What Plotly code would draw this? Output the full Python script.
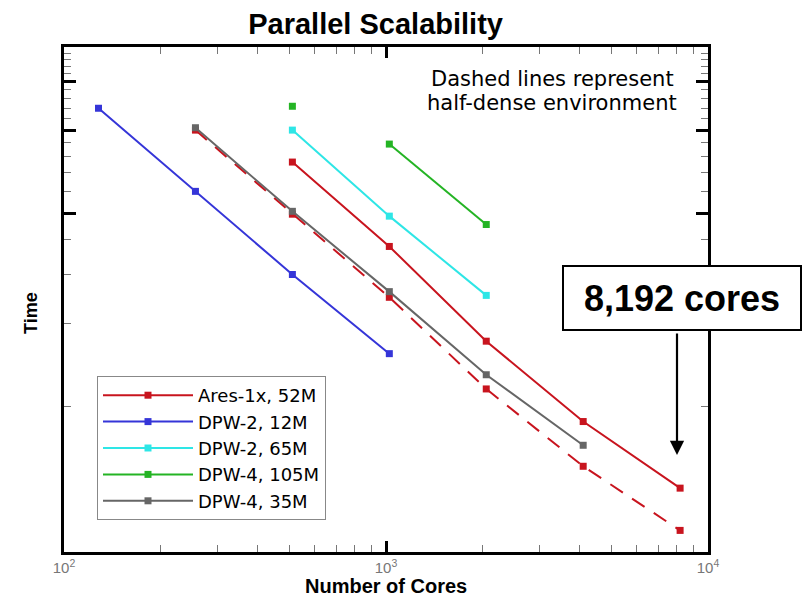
import plotly.graph_objects as go

# Core counts used in the runs
cores = [128, 256, 512, 1024, 2048, 4096, 8192]

# Wall-clock time per case (dense environment, solid lines)
ares_cores = [512, 1024, 2048, 4096, 8192]
ares_time = [7.66, 3.79, 1.72, 0.88, 0.505]

dpw2_12_cores = [128, 256, 512, 1024]
dpw2_12_time = [12.0, 6.0, 3.0, 1.55]

dpw2_65_cores = [512, 1024, 2048]
dpw2_65_time = [10.0, 4.88, 2.52]

dpw4_105_cores = [1024, 2048]
dpw4_105_time = [8.9, 4.55]

dpw4_35_cores = [256, 512, 1024, 2048, 4096]
dpw4_35_time = [10.2, 5.08, 2.6, 1.3, 0.722]

# Half-dense environment (dashed lines)
ares_half_cores = [256, 512, 1024, 2048, 4096, 8192]
ares_half_time = [10.0, 4.96, 2.48, 1.155, 0.606, 0.355]

dpw4_105_half_cores = [512]
dpw4_105_half_time = [12.2]

# Axis ticks
x_major = [100, 1000, 10000]
x_major_text = ["10<sup>2</sup>", "10<sup>3</sup>", "10<sup>4</sup>"]
x_minor = [200, 300, 400, 500, 600, 700, 800, 900,
           2000, 3000, 4000, 5000, 6000, 7000, 8000, 9000]
y_major = [5, 10, 15, 20]
y_minor = [1, 2, 3, 4, 6, 7, 8, 9, 11, 12, 13, 14, 16, 17, 18, 19]

RED = "#c8141e"
BLUE = "#3535d8"
CYAN = "#2ee6e6"
GREEN = "#24b424"
GRAY = "#666666"

SANS = "Liberation Sans, Arial, sans-serif"
WIDE = "DejaVu Sans, sans-serif"

fig = go.Figure()


def add_series(xs, ys, color, name, dash="solid", legend=True):
    fig.add_trace(go.Scatter(
        x=xs, y=ys, name=name, mode="lines+markers",
        line=dict(color=color, width=2, dash=dash),
        marker=dict(symbol="square", size=7, color=color),
        showlegend=legend,
    ))


# dashed (half-dense) series go underneath the solid ones
add_series(ares_half_cores, ares_half_time, RED, "Ares-1x, 52M (half-dense)",
           dash="15px,11px", legend=False)
add_series(dpw4_105_half_cores, dpw4_105_half_time, GREEN,
           "DPW-4, 105M (half-dense)", dash="15px,11px", legend=False)

add_series(ares_cores, ares_time, RED, "Ares-1x, 52M")
add_series(dpw2_12_cores, dpw2_12_time, BLUE, "DPW-2, 12M")
add_series(dpw2_65_cores, dpw2_65_time, CYAN, "DPW-2, 65M")
add_series(dpw4_105_cores, dpw4_105_time, GREEN, "DPW-4, 105M")
add_series(dpw4_35_cores, dpw4_35_time, GRAY, "DPW-4, 35M")

# plot area in pixels
L, R, T, B = 64, 708, 47, 552
W, H = R - L, B - T


def px(x):
    return (x - L) / W


def py(y):
    return (B - y) / H


fig.update_layout(
    width=804, height=596,
    margin=dict(l=L, r=804 - R, t=T, b=596 - B, autoexpand=False),
    paper_bgcolor="white", plot_bgcolor="white",
    font=dict(family=SANS, color="black"),
    title=dict(text="<b>Parallel Scalability</b>", x=389 / 804, xref="paper",
               xanchor="center", y=1 - 24 / 596, yanchor="middle",
               font=dict(size=29, family=SANS, color="black")),
    legend=dict(
        x=px(97), y=py(376), xanchor="left", yanchor="top",
        bordercolor="#888888", borderwidth=1, bgcolor="white",
        font=dict(size=18, family=WIDE, color="black"),
        itemwidth=90, tracegroupgap=0,
    ),
    xaxis=dict(
        type="log", range=[2, 4], automargin=False,
        showline=True, linecolor="black", linewidth=3, mirror="allticks",
        ticks="inside", ticklen=11, tickwidth=2.5, tickcolor="black",
        tickvals=x_major, ticktext=x_major_text,
        tickfont=dict(size=15, color="#777777", family=SANS),
        showgrid=False, zeroline=False,
        minor=dict(tickmode="array", tickvals=x_minor, ticks="inside",
                   ticklen=7, tickwidth=1, tickcolor="#777777",
                   showgrid=False),
    ),
    yaxis=dict(
        type="log", range=[-0.528, 1.301], automargin=False,
        showline=True, linecolor="black", linewidth=3, mirror="allticks",
        ticks="inside", ticklen=12, tickwidth=2.5, tickcolor="black",
        tickvals=y_major, showticklabels=False,
        showgrid=False, zeroline=False,
        minor=dict(tickmode="array", tickvals=y_minor, ticks="inside",
                   ticklen=7, tickwidth=1, tickcolor="#777777",
                   showgrid=False),
    ),
)

# axis titles
fig.add_annotation(
    text="<b>Number of Cores</b>", xref="paper", yref="paper",
    x=px(386), y=py(586), showarrow=False,
    xanchor="center", yanchor="middle",
    font=dict(size=20, family=SANS, color="black"),
)
fig.add_annotation(
    text="<b>Time</b>", xref="paper", yref="paper", x=px(31), y=py(313),
    textangle=-90, showarrow=False, xanchor="center", yanchor="middle",
    font=dict(size=18, family=SANS, color="black"),
)

# note about line styles
fig.add_annotation(
    text="Dashed lines represent", xref="paper", yref="paper",
    x=px(552), y=py(79), showarrow=False,
    xanchor="center", yanchor="middle",
    font=dict(size=21, family=WIDE, color="black"),
)
fig.add_annotation(
    text="half-dense environment", xref="paper", yref="paper",
    x=px(552), y=py(103), showarrow=False,
    xanchor="center", yanchor="middle",
    font=dict(size=21, family=WIDE, color="black"),
)

# callout for the largest run
fig.add_annotation(
    text="", xref="paper", yref="paper", x=px(677), y=py(455),
    ax=0, ay=-123, showarrow=True,
    arrowhead=2, arrowsize=1.3, arrowwidth=2.2, arrowcolor="black",
)
fig.add_annotation(
    text="<b>8,192 cores</b>", xref="paper", yref="paper",
    x=px(682), y=py(298), xanchor="center", yanchor="middle",
    showarrow=False, width=236, height=62, bgcolor="white",
    bordercolor="black", borderwidth=2, borderpad=0,
    font=dict(size=36, family=SANS, color="black"),
)

fig.write_html("out.html")
